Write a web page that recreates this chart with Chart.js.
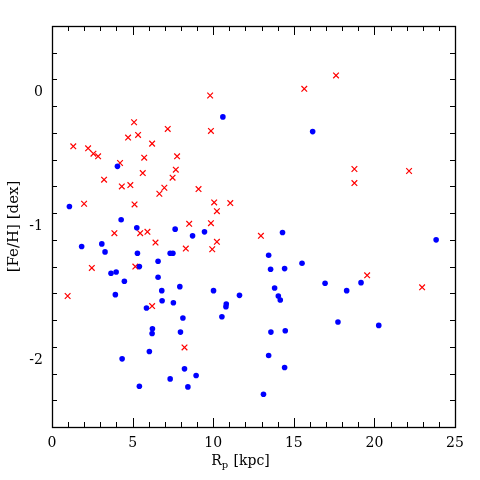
<!DOCTYPE html>
<html>
<head>
<meta charset="utf-8">
<script src="https://cdn.jsdelivr.net/npm/chart.js@4"></script>
<style>
  html, body { margin: 0; padding: 0; background: #fff; }
  #wrap { width: 480px; height: 480px; }
</style>
</head>
<body>
<div id="wrap"><canvas id="chart" width="480" height="480"></canvas></div>
<script>
// blue dots
blueR = [1.08, 4.06, 10.60, 16.17, 4.29, 5.26, 7.64, 8.72, 9.46, 1.84, 3.09, 3.29, 5.30, 7.33, 7.50, 6.58,
    5.42, 3.66, 3.98, 6.58, 4.49, 6.81, 7.93, 3.93, 6.83, 5.86, 7.53, 8.12, 6.23, 6.21, 7.97, 6.04,
    4.35, 8.22, 8.94, 7.33, 5.42, 8.43, 14.30, 13.44, 13.56, 14.43, 15.51, 10.02, 13.81, 16.94, 18.28,
    11.63, 14.04, 14.16, 10.81, 10.79, 10.54, 17.74, 13.58, 14.47, 13.44, 14.43, 13.12, 23.83, 19.17, 20.27];
blueFeH = [-0.85, -0.55, -0.18, -0.29, -0.95, -1.01, -1.02, -1.07, -1.04, -1.15, -1.13, -1.19, -1.20, -1.20, -1.20, -1.26,
    -1.30, -1.35, -1.34, -1.38, -1.41, -1.48, -1.45, -1.51, -1.555, -1.61, -1.57, -1.685, -1.765, -1.80, -1.79, -1.935,
    -1.99, -2.065, -2.115, -2.14, -2.195, -2.20, -1.045, -1.215, -1.32, -1.315, -1.275, -1.48, -1.46, -1.425, -1.48,
    -1.515, -1.52, -1.55, -1.58, -1.60, -1.675, -1.715, -1.79, -1.78, -1.965, -2.055, -2.255, -1.10, -1.42, -1.74];

// red crosses
redR = [1.32, 5.09, 4.72, 5.34, 7.18, 6.21, 2.24, 2.57, 2.86, 5.72, 7.76, 4.22, 5.63, 7.68, 7.48, 3.23, 4.33,
    4.86, 6.97, 6.66, 9.09, 1.99, 5.12, 3.87, 5.47, 5.92, 8.51, 6.42, 8.30, 2.47, 5.17, 0.97, 6.21, 8.22,
    9.81, 9.86, 15.65, 17.62, 10.06, 11.06, 10.23, 9.86, 10.23, 9.94, 12.96, 18.76, 22.15, 18.76, 19.55, 22.96];
redFeH = [-0.40, -0.22, -0.335, -0.315, -0.27, -0.38, -0.415, -0.455, -0.475, -0.485, -0.475, -0.525, -0.60, -0.575, -0.635, -0.65, -0.70,
    -0.69, -0.71, -0.755, -0.72, -0.83, -0.835, -1.05, -1.05, -1.04, -0.98, -1.12, -1.165, -1.31, -1.30, -1.52, -1.595, -1.905,
    -0.02, -0.285, 0.03, 0.13, -0.82, -0.825, -0.885, -0.975, -1.115, -1.17, -1.07, -0.57, -0.585, -0.675, -1.365, -1.455];

xMin = 0; xMax = 25; xMinor = 1;
yMin = -2.5; yMax = 0.5; yMinor = 0.2;
xTickValues = [0, 5, 10, 15, 20, 25];
yTickValues = [-2, -1, 0];
xTitle = ['R', 'p', ' [kpc]'];
yTitle = '[Fe/H] [dex]';

const FONT = '"DejaVu Serif", "Liberation Serif", serif';

function toPoints(xs, ys) {
    return xs.map(function(x, i) { return {x: x, y: ys[i]}; });
}

function isMajor(v, list) {
    return list.some(function(t) { return Math.abs(t - v) < 1e-6; });
}

// frame + inward ticks on all four sides, plus the x title with a subscript
const framePlugin = {
    id: 'frame',
    afterDraw(chart) {
        const ctx = chart.ctx;
        const a = chart.chartArea;
        const xs = chart.scales.x, ys = chart.scales.y;
        ctx.save();
        ctx.strokeStyle = '#000';
        ctx.lineWidth = 1;
        ctx.beginPath();
        for (let i = 0; xMin + i * xMinor <= xMax + 1e-9; i++) {
            const v = xMin + i * xMinor;
            const px = Math.round(xs.getPixelForValue(v)) + 0.5;
            const len = isMajor(v, xTickValues) ? 9 : 5;
            ctx.moveTo(px, a.bottom); ctx.lineTo(px, a.bottom - len);
            ctx.moveTo(px, a.top); ctx.lineTo(px, a.top + len);
        }
        for (let i = 0; yMin + i * yMinor <= yMax + 1e-9; i++) {
            const v = yMin + i * yMinor;
            const py = Math.round(ys.getPixelForValue(v)) + 0.5;
            const len = isMajor(v, yTickValues) ? 9 : 5;
            ctx.moveTo(a.left, py); ctx.lineTo(a.left + len, py);
            ctx.moveTo(a.right, py); ctx.lineTo(a.right - len, py);
        }
        ctx.stroke();
        ctx.lineWidth = 1.3;
        ctx.strokeRect(Math.round(a.left) + 0.5, Math.round(a.top) + 0.5,
            Math.round(a.right - a.left), Math.round(a.bottom - a.top));

        // x title: R_p [kpc], centred on the canvas like the original
        ctx.fillStyle = '#000';
        ctx.textBaseline = 'alphabetic';
        const big = '14px ' + FONT, small = '10px ' + FONT;
        ctx.font = big; const w1 = ctx.measureText(xTitle[0]).width;
        ctx.font = small; const w2 = ctx.measureText(xTitle[1]).width;
        ctx.font = big; const w3 = ctx.measureText(xTitle[2]).width;
        let x0 = chart.width / 2 - (w1 + w2 + w3) / 2;
        const base = 465;
        ctx.textAlign = 'left';
        ctx.font = big; ctx.fillText(xTitle[0], x0, base);
        ctx.font = small; ctx.fillText(xTitle[1], x0 + w1, base + 3);
        ctx.font = big; ctx.fillText(xTitle[2], x0 + w1 + w2 + 1, base);
        ctx.restore();
    }
};

const ctx = document.getElementById('chart').getContext('2d');
chart = new Chart(ctx, {
    type: 'scatter',
    data: {
        datasets: [
            {
                label: 'blue',
                data: toPoints(blueR, blueFeH),
                pointStyle: 'circle',
                pointRadius: 2.8,
                pointBorderWidth: 0,
                backgroundColor: '#0000ff',
                borderColor: '#0000ff'
            },
            {
                label: 'red',
                data: toPoints(redR, redFeH),
                pointStyle: 'crossRot',
                pointRadius: 4,
                pointBorderWidth: 1.2,
                backgroundColor: '#ff0000',
                borderColor: '#ff0000'
            }
        ]
    },
    options: {
        responsive: false,
        maintainAspectRatio: false,
        animation: false,
        layout: { padding: { top: 26, right: 25, left: 0, bottom: 0 } },
        plugins: {
            legend: { display: false },
            tooltip: { enabled: false }
        },
        scales: {
            x: {
                type: 'linear',
                min: xMin, max: xMax,
                grid: { display: false, drawTicks: false },
                border: { display: false },
                afterBuildTicks(scale) {
                    scale.ticks = xTickValues.map(function(v) { return {value: v}; });
                },
                ticks: {
                    padding: 8,
                    color: '#000',
                    font: { family: FONT, size: 14 },
                    maxRotation: 0
                },
                afterFit(scale) { scale.height = 53; }
            },
            y: {
                type: 'linear',
                min: yMin, max: yMax,
                grid: { display: false, drawTicks: false },
                border: { display: false },
                afterBuildTicks(scale) {
                    scale.ticks = yTickValues.map(function(v) { return {value: v}; });
                },
                ticks: {
                    padding: 9,
                    color: '#000',
                    font: { family: FONT, size: 14 }
                },
                title: {
                    display: true,
                    text: yTitle,
                    color: '#000',
                    font: { family: FONT, size: 15 },
                    padding: { top: 5, bottom: 0 }
                },
                afterFit(scale) { scale.width = 52; }
            }
        }
    },
    plugins: [framePlugin]
});
</script>
</body>
</html>
